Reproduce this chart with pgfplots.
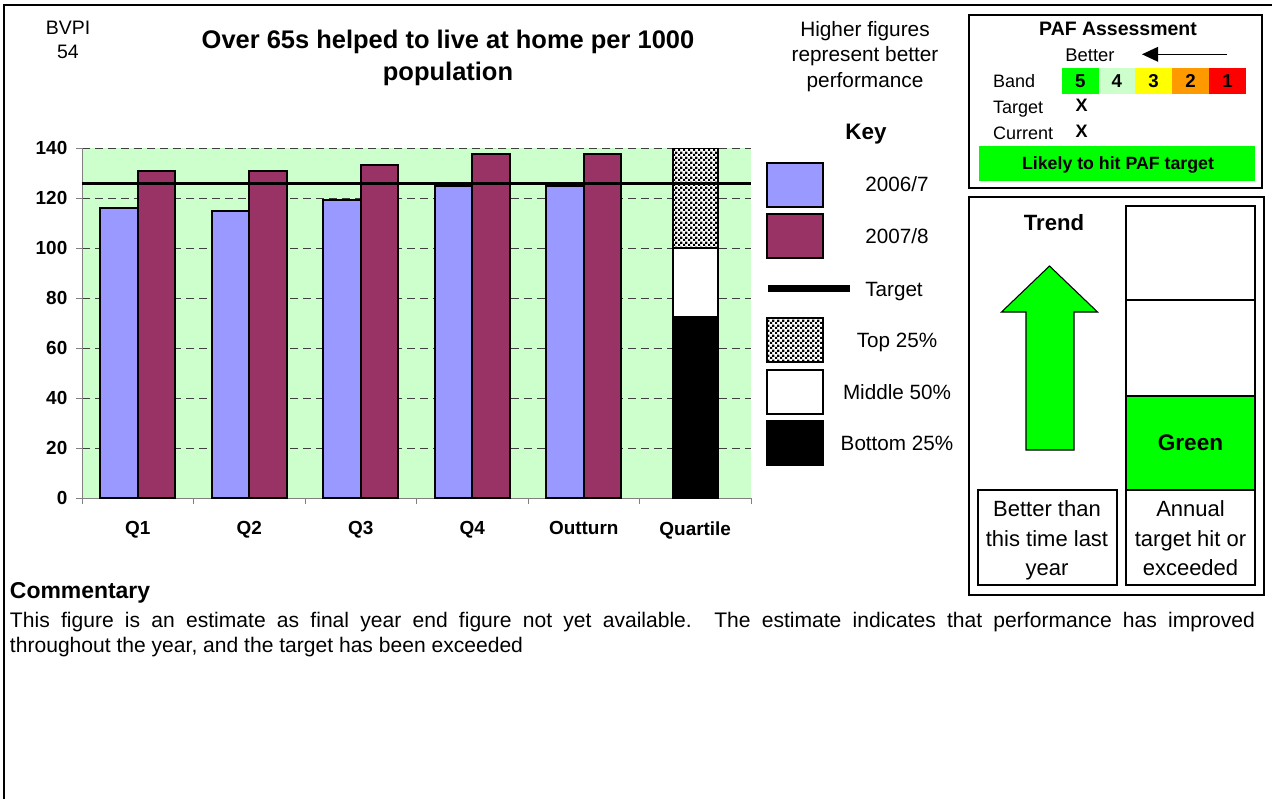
\documentclass[border=0pt]{standalone}
\usepackage{fontspec}
\setmainfont{Liberation Sans}
\usepackage{pgfplots}
\pgfplotsset{compat=1.18}
\usetikzlibrary{patterns,arrows.meta}
\definecolor{bgg}{HTML}{CCFFCC}
\definecolor{bblue}{HTML}{9999FF}
\definecolor{bred}{HTML}{993366}
\definecolor{pgreen}{HTML}{00FF00}
\definecolor{pyellow}{HTML}{FFFF00}
\definecolor{porange}{HTML}{FF9900}
\definecolor{pred}{HTML}{FF0000}
\definecolor{axgray}{HTML}{808080}
\pgfdeclarepatternformonly{finecheck}{\pgfpointorigin}{\pgfqpoint{3.8pt}{3.8pt}}{\pgfqpoint{3.8pt}{3.8pt}}{%
  \pgfpathrectangle{\pgfpointorigin}{\pgfqpoint{1.9pt}{1.9pt}}%
  \pgfpathrectangle{\pgfqpoint{1.9pt}{1.9pt}}{\pgfqpoint{1.9pt}{1.9pt}}%
  \pgfusepath{fill}}
\begin{document}
\begin{tikzpicture}[x=0.75pt,y=-0.75pt]
\path[use as bounding box] (0,0) rectangle (1272,799);
\fill[white] (0,0) rectangle (1272,799);
\begin{axis}[at={(61.5pt,-373.5pt)}, anchor=south west,
  scale only axis, width=501.75pt, height=262.5pt,
  xmin=-0.5, xmax=5.5, ymin=0, ymax=140,
  axis lines*=left,
  axis line style={draw=axgray, line width=0.75pt},
  tick align=outside,
  major tick length=4.5pt, minor tick length=4.5pt,
  tick style={draw=axgray, line width=0.75pt},
  ytick={0,20,...,140},
  xtick={0,...,5},
  xticklabels={Q1,Q2,Q3,Q4,Outturn,Quartile},
  major x tick style={draw=none},
  minor xtick={-0.5,0.5,...,5.5},
  ymajorgrids,
  major grid style={draw=black!75, dash pattern=on 6pt off 3.75pt, line width=0.75pt},
  axis background/.style={fill=bgg},
  ticklabel style={font=\fontsize{14.2}{16}\selectfont\bfseries},
  yticklabel style={xshift=-3pt},
  xticklabel style={yshift=-9.5pt},
  /pgf/number format/assume math mode=true,
]
\addplot[ybar, bar width=0.336, bar shift=-0.168, fill=bblue, draw=black, line width=1.5pt]
  coordinates {(0,116) (1,114.7) (2,119.3) (3,125) (4,124.7)};
\addplot[ybar, bar width=0.336, bar shift=0.168, fill=bred, draw=black, line width=1.5pt]
  coordinates {(0,131) (1,131) (2,133.3) (3,137.6) (4,137.6)};
% quartile bands: top 25% up to 140, middle 50% up to 100, bottom 25% up to 72.6
\addplot[ybar, bar width=0.404, bar shift=0, fill=white, draw=black, line width=1.5pt, postaction={pattern=finecheck}]
  coordinates {(5,140)};
\addplot[ybar, bar width=0.404, bar shift=0, fill=white, draw=black, line width=1.5pt]
  coordinates {(5,100)};
\addplot[ybar, bar width=0.404, bar shift=0, fill=black, draw=black, line width=1.5pt]
  coordinates {(5,72.6)};
\addplot[black, line width=2.25pt, no marks] coordinates {(-0.5,126) (5.5,126)};
\end{axis}
\begin{scope}[every node/.style={inner sep=0pt, outer sep=0pt}]
% outer frame
\draw[line width=2pt] (4,799) -- (4,5) -- (1272,5);
% header texts
\node[anchor=base, font=\fontsize{14.6}{17}\selectfont] at (68,35) {BVPI};
\node[anchor=base, font=\fontsize{14.6}{17}\selectfont] at (68,58.5) {54};
\node[anchor=base, font=\fontsize{19.1}{22}\selectfont\bfseries] at (448,49) {Over 65s helped to live at home per 1000};
\node[anchor=base, font=\fontsize{19.1}{22}\selectfont\bfseries] at (448,81) {population};
\node[anchor=base, font=\fontsize{15.6}{18}\selectfont] at (865,36.7) {Higher figures};
\node[anchor=base, font=\fontsize{15.6}{18}\selectfont] at (865,61.7) {represent better};
\node[anchor=base, font=\fontsize{15.6}{18}\selectfont] at (865,87.3) {performance};
% key
\node[anchor=base, font=\fontsize{16.8}{20}\selectfont\bfseries] at (866,140) {Key};
\draw[line width=2pt, fill=bblue] (767,163) rectangle (823,207);
\draw[line width=2pt, fill=bred] (767,214) rectangle (823,258);
\draw[line width=5.5pt] (768,288.5) -- (850,288.5);
\draw[line width=2pt, fill=white] (767,318) rectangle (823,362);
\fill[pattern=finecheck] (767,318) rectangle (823,362);
\draw[line width=2pt] (767,318) rectangle (823,362);
\draw[line width=2pt, fill=white] (767,370) rectangle (823,414);
\draw[line width=2pt, fill=black] (767,421) rectangle (823,465);
\node[anchor=base, font=\fontsize{15.5}{18}\selectfont] at (897,191.7) {2006/7};
\node[anchor=base, font=\fontsize{15.5}{18}\selectfont] at (897,243.3) {2007/8};
\node[anchor=base, font=\fontsize{15.5}{18}\selectfont] at (894,296) {Target};
\node[anchor=base, font=\fontsize{15.5}{18}\selectfont] at (897,347.7) {Top 25\%};
\node[anchor=base, font=\fontsize{15.5}{18}\selectfont] at (897,399.3) {Middle 50\%};
\node[anchor=base, font=\fontsize{15.5}{18}\selectfont] at (897,450) {Bottom 25\%};
% PAF box
\draw[line width=2pt] (969,15) rectangle (1262,188);
\node[anchor=base, font=\fontsize{14.6}{17}\selectfont\bfseries] at (1118,36) {PAF Assessment};
\node[anchor=base, font=\fontsize{13.8}{16}\selectfont] at (1090,61.7) {Better};
\draw[line width=0.9pt, -{Triangle[length=12pt,width=11pt]}] (1227,54.3) -- (1142,54.3);
\fill[pgreen] (1061.7,68.3) rectangle (1098.7,94.3);
\fill[bgg] (1098.7,68.3) rectangle (1135,94.3);
\fill[pyellow] (1135,68.3) rectangle (1172,94.3);
\fill[porange] (1172,68.3) rectangle (1209,94.3);
\fill[pred] (1209,68.3) rectangle (1246,94.3);
\node[anchor=base, font=\fontsize{14}{16}\selectfont\bfseries] at (1080.2,87.3) {5};
\node[anchor=base, font=\fontsize{14}{16}\selectfont\bfseries] at (1116.8,87.3) {4};
\node[anchor=base, font=\fontsize{14}{16}\selectfont\bfseries] at (1153.5,87.3) {3};
\node[anchor=base, font=\fontsize{14}{16}\selectfont\bfseries] at (1190.5,87.3) {2};
\node[anchor=base, font=\fontsize{14}{16}\selectfont\bfseries] at (1227.5,87.3) {1};
\node[anchor=base west, font=\fontsize{13.5}{16}\selectfont] at (993,87.3) {Band};
\node[anchor=base west, font=\fontsize{13.5}{16}\selectfont] at (993,113.3) {Target};
\node[anchor=base west, font=\fontsize{13.5}{16}\selectfont] at (993,139.3) {Current};
\node[anchor=base, font=\fontsize{13.5}{16}\selectfont\bfseries] at (1081.7,111.7) {X};
\node[anchor=base, font=\fontsize{13.5}{16}\selectfont\bfseries] at (1081.7,137.7) {X};
\fill[pgreen] (979,146) rectangle (1255,181);
\node[anchor=base, font=\fontsize{13.3}{16}\selectfont\bfseries] at (1118,169.3) {Likely to hit PAF target};
% Trend box
\draw[line width=2pt] (969,197) rectangle (1264,595);
\node[anchor=base, font=\fontsize{16.6}{20}\selectfont\bfseries] at (1054,230.7) {Trend};
\filldraw[fill=pgreen, draw=black, line width=0.8pt] (1049.5,266) -- (1097.5,312) -- (1074,312) -- (1074,450) -- (1026,450) -- (1026,312) -- (1001.5,312) -- cycle;
\fill[pgreen] (1126,396) rectangle (1255,490);
\draw[line width=2pt] (1126,206) rectangle (1255,585);
\draw[line width=2pt] (1126,300) -- (1255,300);
\draw[line width=2pt] (1126,396) -- (1255,396);
\draw[line width=2pt] (1126,490) -- (1255,490);
\draw[line width=2pt] (978,490) rectangle (1117,585);
\node[anchor=base, font=\fontsize{16.9}{20}\selectfont\bfseries] at (1190.5,450.7) {Green};
\node[anchor=base, font=\fontsize{16.5}{20}\selectfont] at (1047,516.7) {Better than};
\node[anchor=base, font=\fontsize{16.5}{20}\selectfont] at (1047,546) {this time last};
\node[anchor=base, font=\fontsize{16.5}{20}\selectfont] at (1047,575) {year};
\node[anchor=base, font=\fontsize{16.5}{20}\selectfont] at (1190.5,516.7) {Annual};
\node[anchor=base, font=\fontsize{16.5}{20}\selectfont] at (1190.5,546) {target hit or};
\node[anchor=base, font=\fontsize{16.5}{20}\selectfont] at (1190.5,575) {exceeded};
% commentary
\node[anchor=base west, font=\fontsize{17.2}{20}\selectfont\bfseries] at (10,598) {Commentary};
\node[anchor=base west, font=\fontsize{15.8}{19}\selectfont] at (10,627.5) {\makebox[933.75pt][s]{This figure is an estimate as final year end figure not yet available.\ \ The estimate indicates that performance has improved}};
\node[anchor=base west, font=\fontsize{15.8}{19}\selectfont] at (10,652.5) {throughout the year, and the target has been exceeded};
\end{scope}
\end{tikzpicture}
\end{document}
